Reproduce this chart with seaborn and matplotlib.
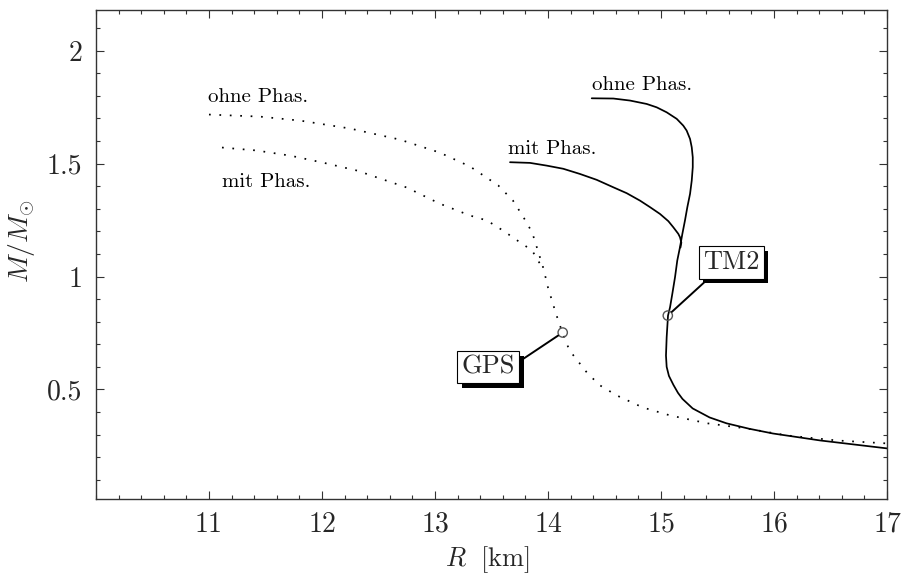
import numpy as np
import pandas as pd
import matplotlib
matplotlib.use("Agg")
import matplotlib.pyplot as plt
import matplotlib.patheffects as pe
from matplotlib.ticker import FixedLocator, MultipleLocator, FuncFormatter
import seaborn as sns

# Mass-radius relations (R in km, M in solar masses)
gps_ohne_R = [11.00, 11.45, 11.81, 12.25, 12.69, 13.04, 13.31, 13.56, 13.69, 13.78,
              13.86, 13.91, 13.96, 14.00, 14.07, 14.13, 14.19, 14.35, 14.46, 14.61,
              14.84, 15.08, 15.41, 15.76, 16.12, 16.56, 17.00]
gps_ohne_M = [1.717, 1.708, 1.690, 1.655, 1.606, 1.549, 1.487, 1.403, 1.336, 1.265,
              1.195, 1.115, 1.035, 0.951, 0.836, 0.748, 0.673, 0.571, 0.518, 0.473,
              0.420, 0.385, 0.350, 0.327, 0.296, 0.274, 0.261]

gps_mit_R = [11.115, 11.42, 11.72, 12.01, 12.31, 12.49, 12.75, 13.04, 13.31, 13.46,
             13.60, 13.73, 13.86, 13.91, 13.96]
gps_mit_M = [1.571, 1.558, 1.535, 1.504, 1.469, 1.438, 1.394, 1.323, 1.270, 1.248,
             1.204, 1.159, 1.115, 1.071, 1.035]

tm2_ohne_R = [14.387, 14.578, 14.726, 14.873, 14.962, 15.050, 15.139, 15.197, 15.227,
              15.257, 15.272, 15.281, 15.281, 15.272, 15.257, 15.233, 15.212, 15.189,
              15.168, 15.144, 15.124, 15.100, 15.080, 15.062, 15.050, 15.044, 15.050,
              15.070, 15.110, 15.150, 15.190, 15.280, 15.430, 15.580, 15.780, 15.990,
              16.410, 17.000]
tm2_ohne_M = [1.789, 1.788, 1.779, 1.764, 1.749, 1.727, 1.698, 1.668, 1.646,
              1.609, 1.572, 1.528, 1.484, 1.425, 1.366, 1.307, 1.248, 1.189,
              1.130, 1.071, 0.997, 0.923, 0.864, 0.827, 0.731, 0.650, 0.600,
              0.560, 0.520, 0.485, 0.458, 0.416, 0.376, 0.350, 0.326, 0.305,
              0.274, 0.239]

tm2_mit_R = [13.664, 13.841, 13.988, 14.135, 14.283, 14.431, 14.578, 14.696, 14.814,
             14.903, 14.991, 15.065, 15.109, 15.153, 15.168, 15.180, 15.172]
tm2_mit_M = [1.506, 1.503, 1.491, 1.477, 1.454, 1.428, 1.395, 1.369, 1.336,
             1.307, 1.277, 1.245, 1.218, 1.189, 1.174, 1.150, 1.128]

# Marked stars on each branch
marker_names = ["GPS", "TM2"]
marker_R = [14.13, 15.06]
marker_M = [0.752, 0.827]

x_ticks = [11, 12, 13, 14, 15, 16, 17]
y_ticks = [0.5, 1.0, 1.5, 2.0]

sns.set_theme(style="white")
plt.rcParams["font.family"] = ["cmr10", "DejaVu Serif"]
plt.rcParams["mathtext.fontset"] = "cm"
plt.rcParams["axes.formatter.use_mathtext"] = True

fig = plt.figure(figsize=(9.03, 5.77), dpi=100)
ax = fig.add_axes([0.1063, 0.1352, 0.8760, 0.8475])

dotted = (0, (1, 5))
curves = [
    (gps_ohne_R, gps_ohne_M, dotted),
    (gps_mit_R, gps_mit_M, dotted),
    (tm2_ohne_R, tm2_ohne_M, "-"),
    (tm2_mit_R, tm2_mit_M, "-"),
]
for R, M, ls in curves:
    df = pd.DataFrame({"R": R, "M": M})
    sns.lineplot(data=df, x="R", y="M", sort=False, estimator=None, ax=ax,
                 color="black", linewidth=1.25, linestyle=ls)

sns.scatterplot(x=marker_R, y=marker_M, ax=ax, s=45, marker="o",
                facecolor="none", edgecolor="#555555", linewidth=1.0, zorder=5)

# Curve labels
lab_kw = dict(fontsize=15, ha="left", va="baseline", color="black")
ax.text(10.99, 1.774, "ohne Phas.", **lab_kw)
ax.text(11.115, 1.398, "mit Phas.", **lab_kw)
ax.text(14.39, 1.827, "ohne Phas.", **lab_kw)
ax.text(13.65, 1.544, "mit Phas.", **lab_kw)

# Boxed names with drop shadow
box_pos = [(13.47, 0.600), (15.62, 1.062)]
relpos = [(1.0, 0.6), (0.18, 0.0)]
for name, R, M, (bx, by), rp in zip(marker_names, marker_R, marker_M, box_pos, relpos):
    ann = ax.annotate(
        name, xy=(R, M), xytext=(bx, by), fontsize=19, ha="center", va="center",
        bbox=dict(boxstyle="square,pad=0.16", fc="white", ec="black", lw=0.8),
        arrowprops=dict(arrowstyle="-", color="black", lw=1.4,
                        shrinkA=0, shrinkB=4, relpos=rp),
        zorder=6)
    ann.get_bbox_patch().set_path_effects([
        pe.SimplePatchShadow(offset=(3.5, -3.5), shadow_rgbFace="black", alpha=1.0),
        pe.Normal()])

ax.set_xlim(10.0, 17.0)
ax.set_ylim(0.015, 2.18)

ax.xaxis.set_major_locator(FixedLocator(x_ticks))
ax.xaxis.set_minor_locator(MultipleLocator(0.2))
ax.yaxis.set_major_locator(FixedLocator(y_ticks))
ax.yaxis.set_minor_locator(MultipleLocator(0.1))
fmt = FuncFormatter(lambda v, p: f"{v:g}")
ax.xaxis.set_major_formatter(fmt)
ax.yaxis.set_major_formatter(fmt)

ax.tick_params(which="both", direction="in", top=True, right=True,
               bottom=True, left=True, color="#333333", width=0.8)
ax.tick_params(which="major", length=6, labelsize=20)
ax.tick_params(which="minor", length=3)
ax.tick_params(axis="x", which="major", pad=9)
ax.tick_params(axis="y", which="major", pad=10)

for sp in ax.spines.values():
    sp.set_color("#333333")
    sp.set_linewidth(1.0)

ax.set_xlabel(r"$R\ \ [\mathrm{km}]$", fontsize=19, va="center")
ax.set_ylabel(r"$M/M_{\odot}$", fontsize=20)
ax.xaxis.set_label_coords(0.495, -0.124)
ax.yaxis.set_label_coords(-0.0746, 0.528)

fig.savefig("out.png", dpi=100)
